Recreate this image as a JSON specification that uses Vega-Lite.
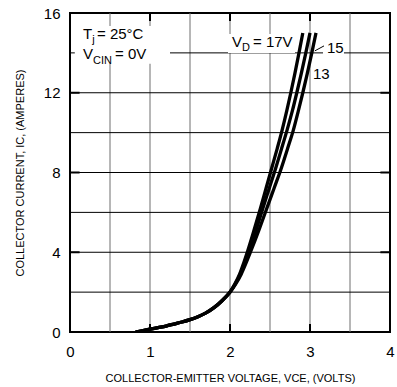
{
  "$schema": "https://vega.github.io/schema/vega-lite/v6.json",
  "width": 320,
  "height": 319,
  "autosize": "none",
  "padding": {"left": 70, "top": 13, "right": 7, "bottom": 55},
  "background": "white",
  "config": {
    "view": {"stroke": "black", "strokeWidth": 2},
    "font": "Liberation Sans",
    "axis": {"labelFont": "Liberation Sans", "titleFont": "Liberation Sans", "labelColor": "black", "titleColor": "black", "titleFontWeight": "normal"}
  },
  "datasets": {
    "curves": [
      {"v": "17V", "x": 0.82, "y": 0}, {"v": "17V", "x": 0.9, "y": 0.06}, {"v": "17V", "x": 1.0, "y": 0.14}, {"v": "17V", "x": 1.1, "y": 0.22}, {"v": "17V", "x": 1.2, "y": 0.3}, {"v": "17V", "x": 1.3, "y": 0.4}, {"v": "17V", "x": 1.4, "y": 0.5}, {"v": "17V", "x": 1.5, "y": 0.62}, {"v": "17V", "x": 1.6, "y": 0.77}, {"v": "17V", "x": 1.7, "y": 0.96}, {"v": "17V", "x": 1.8, "y": 1.22}, {"v": "17V", "x": 1.9, "y": 1.57}, {"v": "17V", "x": 2.0, "y": 2.0},
      {"v": "17V", "x": 2.06, "y": 2.4}, {"v": "17V", "x": 2.12, "y": 2.9}, {"v": "17V", "x": 2.17, "y": 3.45}, {"v": "17V", "x": 2.22, "y": 4.05}, {"v": "17V", "x": 2.3, "y": 5.1}, {"v": "17V", "x": 2.38, "y": 6.2}, {"v": "17V", "x": 2.45, "y": 7.2}, {"v": "17V", "x": 2.52, "y": 8.2}, {"v": "17V", "x": 2.59, "y": 9.2}, {"v": "17V", "x": 2.65, "y": 10.1}, {"v": "17V", "x": 2.71, "y": 11.1}, {"v": "17V", "x": 2.76, "y": 12.0}, {"v": "17V", "x": 2.81, "y": 12.95}, {"v": "17V", "x": 2.86, "y": 13.95}, {"v": "17V", "x": 2.91, "y": 15.0},
      {"v": "15V", "x": 0.82, "y": 0}, {"v": "15V", "x": 0.9, "y": 0.06}, {"v": "15V", "x": 1.0, "y": 0.14}, {"v": "15V", "x": 1.1, "y": 0.22}, {"v": "15V", "x": 1.2, "y": 0.3}, {"v": "15V", "x": 1.3, "y": 0.4}, {"v": "15V", "x": 1.4, "y": 0.5}, {"v": "15V", "x": 1.5, "y": 0.62}, {"v": "15V", "x": 1.6, "y": 0.77}, {"v": "15V", "x": 1.7, "y": 0.96}, {"v": "15V", "x": 1.8, "y": 1.22}, {"v": "15V", "x": 1.9, "y": 1.57}, {"v": "15V", "x": 2.0, "y": 2.0},
      {"v": "15V", "x": 2.065, "y": 2.4}, {"v": "15V", "x": 2.13, "y": 2.9}, {"v": "15V", "x": 2.185, "y": 3.45}, {"v": "15V", "x": 2.24, "y": 4.05}, {"v": "15V", "x": 2.325, "y": 5.1}, {"v": "15V", "x": 2.41, "y": 6.2}, {"v": "15V", "x": 2.49, "y": 7.2}, {"v": "15V", "x": 2.57, "y": 8.2}, {"v": "15V", "x": 2.645, "y": 9.2}, {"v": "15V", "x": 2.715, "y": 10.15}, {"v": "15V", "x": 2.78, "y": 11.1}, {"v": "15V", "x": 2.835, "y": 12.0}, {"v": "15V", "x": 2.89, "y": 12.95}, {"v": "15V", "x": 2.945, "y": 13.95}, {"v": "15V", "x": 3.0, "y": 15.0},
      {"v": "13V", "x": 0.82, "y": 0}, {"v": "13V", "x": 0.9, "y": 0.06}, {"v": "13V", "x": 1.0, "y": 0.14}, {"v": "13V", "x": 1.1, "y": 0.22}, {"v": "13V", "x": 1.2, "y": 0.3}, {"v": "13V", "x": 1.3, "y": 0.4}, {"v": "13V", "x": 1.4, "y": 0.5}, {"v": "13V", "x": 1.5, "y": 0.62}, {"v": "13V", "x": 1.6, "y": 0.77}, {"v": "13V", "x": 1.7, "y": 0.96}, {"v": "13V", "x": 1.8, "y": 1.22}, {"v": "13V", "x": 1.9, "y": 1.57}, {"v": "13V", "x": 2.0, "y": 2.0},
      {"v": "13V", "x": 2.07, "y": 2.4}, {"v": "13V", "x": 2.14, "y": 2.9}, {"v": "13V", "x": 2.2, "y": 3.45}, {"v": "13V", "x": 2.26, "y": 4.05}, {"v": "13V", "x": 2.36, "y": 5.1}, {"v": "13V", "x": 2.46, "y": 6.2}, {"v": "13V", "x": 2.55, "y": 7.2}, {"v": "13V", "x": 2.64, "y": 8.2}, {"v": "13V", "x": 2.72, "y": 9.2}, {"v": "13V", "x": 2.79, "y": 10.1}, {"v": "13V", "x": 2.855, "y": 11.1}, {"v": "13V", "x": 2.91, "y": 12.0}, {"v": "13V", "x": 2.965, "y": 12.95}, {"v": "13V", "x": 3.02, "y": 13.95}, {"v": "13V", "x": 3.075, "y": 15.0}
    ],
    "boxes": [
      {"x": 0.06, "x2": 1.25, "y": 13.45, "y2": 15.35},
      {"x": 1.975, "x2": 2.8125, "y": 14.0, "y2": 14.95},
      {"x": 3.1625, "x2": 3.425, "y": 13.85, "y2": 14.55}
    ],
    "mainText": [
      {"x": 0.1625, "y": 14.7, "t": "T"},
      {"x": 0.3375, "y": 14.7, "t": "= 25°C"},
      {"x": 0.1625, "y": 13.7, "t": "V"},
      {"x": 0.5625, "y": 13.7, "t": "= 0V"},
      {"x": 2.025, "y": 14.3, "t": "V"},
      {"x": 2.2875, "y": 14.3, "t": "= 17V"},
      {"x": 3.2125, "y": 14.0, "t": "15"},
      {"x": 3.0375, "y": 12.7, "t": "13"}
    ],
    "subText": [
      {"x": 0.2775, "y": 14.5, "t": "j"},
      {"x": 0.2875, "y": 13.45, "t": "CIN"},
      {"x": 2.15, "y": 14.1, "t": "D"}
    ],
    "leader": [
      {"x": 3.06, "x2": 3.175, "y": 14.1, "y2": 14.35}
    ],
    "vgrid": [{"v": 0.5}, {"v": 1}, {"v": 1.5}, {"v": 2}, {"v": 2.5}, {"v": 3}, {"v": 3.5}],
    "hgrid": [{"v": 2}, {"v": 4}, {"v": 6}, {"v": 8}, {"v": 10}, {"v": 12}, {"v": 14}],
    "xticks": [{"v": 1}, {"v": 2}, {"v": 3}],
    "yticks": [{"v": 4}, {"v": 8}, {"v": 12}]
  },
  "layer": [
    {
      "data": {"name": "vgrid"},
      "mark": {"type": "rule", "color": "#6e6e6e", "strokeWidth": 1},
      "encoding": {
        "x": {"field": "v", "type": "quantitative", "scale": {"domain": [0, 4], "nice": false, "zero": false},
          "axis": {"values": [0, 1, 2, 3, 4], "format": "d", "ticks": false, "domain": false, "grid": false, "labelFontSize": 15, "labelPadding": 12, "labelFlush": false, "title": "COLLECTOR-EMITTER VOLTAGE, VCE, (VOLTS)", "titleFontSize": 11, "titlePadding": 13}}
      }
    },
    {
      "data": {"name": "hgrid"},
      "mark": {"type": "rule", "color": "#000000", "strokeWidth": 1},
      "encoding": {
        "y": {"field": "v", "type": "quantitative", "scale": {"domain": [0, 16], "nice": false, "zero": false},
          "axis": {"values": [0, 4, 8, 12, 16], "format": "d", "ticks": false, "domain": false, "grid": false, "labelFontSize": 15, "labelPadding": 10, "labelFlush": false, "title": "COLLECTOR CURRENT, IC, (AMPERES)", "titleFontSize": 11, "titlePadding": 18}}
      }
    },
    {
      "data": {"name": "boxes"},
      "mark": {"type": "rect", "color": "white"},
      "encoding": {
        "x": {"field": "x", "type": "quantitative"},
        "x2": {"field": "x2"},
        "y": {"field": "y", "type": "quantitative"},
        "y2": {"field": "y2"}
      }
    },
    {
      "data": {"name": "mainText"},
      "mark": {"type": "text", "align": "left", "baseline": "alphabetic", "fontSize": 15, "font": "Liberation Sans", "color": "black"},
      "encoding": {
        "x": {"field": "x", "type": "quantitative"},
        "y": {"field": "y", "type": "quantitative"},
        "text": {"field": "t"}
      }
    },
    {
      "data": {"name": "subText"},
      "mark": {"type": "text", "align": "left", "baseline": "alphabetic", "fontSize": 11, "font": "Liberation Sans", "color": "black"},
      "encoding": {
        "x": {"field": "x", "type": "quantitative"},
        "y": {"field": "y", "type": "quantitative"},
        "text": {"field": "t"}
      }
    },
    {
      "data": {"name": "leader"},
      "mark": {"type": "rule", "color": "black", "strokeWidth": 1},
      "encoding": {
        "x": {"field": "x", "type": "quantitative"},
        "x2": {"field": "x2"},
        "y": {"field": "y", "type": "quantitative"},
        "y2": {"field": "y2"}
      }
    },
    {
      "data": {"name": "xticks"},
      "mark": {"type": "rule", "color": "black", "strokeWidth": 2},
      "encoding": {
        "x": {"field": "v", "type": "quantitative"},
        "y": {"datum": 0, "type": "quantitative"},
        "y2": {"datum": 0.4}
      }
    },
    {
      "data": {"name": "xticks"},
      "mark": {"type": "rule", "color": "black", "strokeWidth": 2},
      "encoding": {
        "x": {"field": "v", "type": "quantitative"},
        "y": {"datum": 16, "type": "quantitative"},
        "y2": {"datum": 15.6}
      }
    },
    {
      "data": {"name": "yticks"},
      "mark": {"type": "rule", "color": "black", "strokeWidth": 2},
      "encoding": {
        "y": {"field": "v", "type": "quantitative"},
        "x": {"datum": 0, "type": "quantitative"},
        "x2": {"datum": 0.12}
      }
    },
    {
      "data": {"name": "yticks"},
      "mark": {"type": "rule", "color": "black", "strokeWidth": 2},
      "encoding": {
        "y": {"field": "v", "type": "quantitative"},
        "x": {"datum": 4, "type": "quantitative"},
        "x2": {"datum": 3.88}
      }
    },
    {
      "data": {"name": "curves"},
      "mark": {"type": "line", "color": "black", "strokeWidth": 3.3, "interpolate": "monotone", "clip": true},
      "encoding": {
        "x": {"field": "x", "type": "quantitative"},
        "y": {"field": "y", "type": "quantitative"},
        "detail": {"field": "v"},
        "order": {"field": "x", "type": "quantitative"}
      }
    }
  ]
}
